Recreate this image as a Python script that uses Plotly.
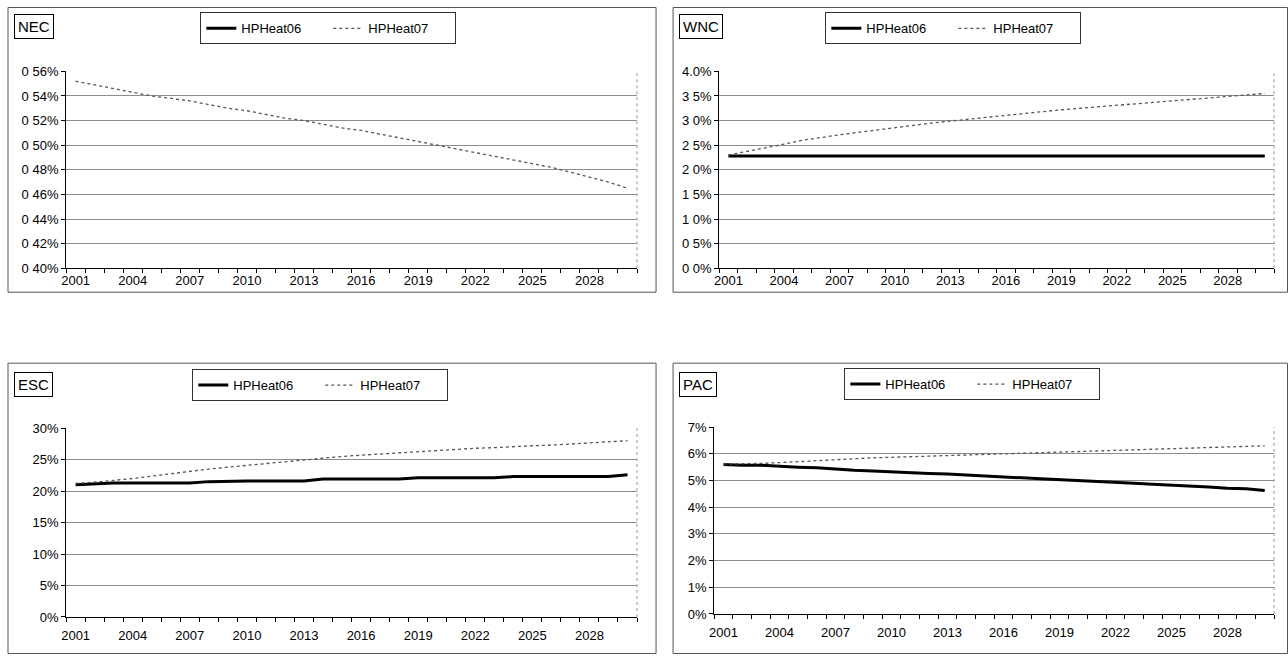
import plotly.graph_objects as go

W, H = 1288, 662

years = [2001, 2002, 2003, 2004, 2005, 2006, 2007, 2008, 2009, 2010,
         2011, 2012, 2013, 2014, 2015, 2016, 2017, 2018, 2019, 2020,
         2021, 2022, 2023, 2024, 2025, 2026, 2027, 2028, 2029, 2030]
year_labels = [2001, 2004, 2007, 2010, 2013, 2016, 2019, 2022, 2025, 2028]

series_names = ["HPHeat06", "HPHeat07"]

# values in percent
nec_06 = [None] * 30
nec_07 = [0.552, 0.549, 0.546, 0.543, 0.540, 0.538, 0.536, 0.533, 0.530, 0.528,
          0.525, 0.522, 0.520, 0.517, 0.514, 0.512, 0.509, 0.506, 0.503, 0.500,
          0.497, 0.494, 0.491, 0.488, 0.485, 0.482, 0.478, 0.474, 0.470, 0.465]

wnc_06 = [2.28] * 30
wnc_07 = [2.30, 2.37, 2.44, 2.52, 2.60, 2.66, 2.71, 2.76, 2.81, 2.86,
          2.90, 2.95, 2.99, 3.03, 3.07, 3.11, 3.15, 3.18, 3.22, 3.25,
          3.28, 3.31, 3.34, 3.37, 3.40, 3.43, 3.46, 3.49, 3.52, 3.55]

esc_06 = [21.0, 21.2, 21.3, 21.3, 21.3, 21.3, 21.3, 21.5, 21.6, 21.6,
          21.6, 21.6, 21.6, 21.9, 21.9, 21.9, 21.9, 21.9, 22.1, 22.1,
          22.1, 22.1, 22.1, 22.3, 22.3, 22.3, 22.3, 22.3, 22.3, 22.6]
esc_07 = [21.2, 21.4, 21.7, 22.0, 22.4, 22.8, 23.2, 23.5, 23.8, 24.1,
          24.4, 24.7, 25.0, 25.2, 25.5, 25.7, 25.9, 26.1, 26.3, 26.5,
          26.7, 26.8, 26.9, 27.1, 27.2, 27.3, 27.5, 27.6, 27.8, 28.0]

pac_06 = [5.60, 5.57, 5.57, 5.53, 5.50, 5.48, 5.43, 5.38, 5.36, 5.32,
          5.28, 5.26, 5.24, 5.20, 5.17, 5.14, 5.10, 5.07, 5.04, 5.00,
          4.97, 4.95, 4.90, 4.86, 4.83, 4.80, 4.76, 4.71, 4.69, 4.63]
pac_07 = [5.62, 5.62, 5.64, 5.67, 5.71, 5.75, 5.79, 5.82, 5.85, 5.87,
          5.89, 5.92, 5.95, 5.97, 5.99, 6.01, 6.03, 6.05, 6.07, 6.09,
          6.11, 6.13, 6.15, 6.17, 6.19, 6.21, 6.23, 6.25, 6.27, 6.30]

nec_ticks = [0.40, 0.42, 0.44, 0.46, 0.48, 0.50, 0.52, 0.54, 0.56]
nec_ticktext = ["0 40%", "0 42%", "0 44%", "0 46%", "0 48%", "0 50%", "0 52%", "0 54%", "0 56%"]
wnc_ticks = [0.0, 0.5, 1.0, 1.5, 2.0, 2.5, 3.0, 3.5, 4.0]
wnc_ticktext = ["0 0%", "0 5%", "1 0%", "1 5%", "2 0%", "2 5%", "3 0%", "3 5%", "4.0%"]
esc_ticks = [0, 5, 10, 15, 20, 25, 30]
esc_ticktext = ["0%", "5%", "10%", "15%", "20%", "25%", "30%"]
pac_ticks = [0, 1, 2, 3, 4, 5, 6, 7]
pac_ticktext = ["0%", "1%", "2%", "3%", "4%", "5%", "6%", "7%"]

FONT = "Liberation Sans, Arial, sans-serif"

def X(r):
    return min(max((r - 5) / 0.9945, 0.5), W - 0.5)

def Y(r):
    return min(max((r - 6.6) / 0.978, 0.5), H - 0.5)

def px(r):
    return X(r) / W

def py(r):
    return 1 - Y(r) / H

panels = [
    dict(name="NEC", s06=nec_06, s07=nec_07, ticks=nec_ticks, ttext=nec_ticktext,
         box=(8, 5, 655, 292), plot=(66, 71, 636, 268), title=(14, 14),
         leg=(200, 12), stand=0),
    dict(name="WNC", s06=wnc_06, s07=wnc_07, ticks=wnc_ticks, ttext=wnc_ticktext,
         box=(672, 5, 1288, 292), plot=(718, 71, 1272, 268), title=(678, 14),
         leg=(824, 12), stand=0),
    dict(name="ESC", s06=esc_06, s07=esc_07, ticks=esc_ticks, ttext=esc_ticktext,
         box=(8, 363, 655, 656), plot=(66, 428, 636, 617), title=(14, 372),
         leg=(192, 369), stand=6),
    dict(name="PAC", s06=pac_06, s07=pac_07, ticks=pac_ticks, ttext=pac_ticktext,
         box=(672, 363, 1288, 656), plot=(713, 427, 1272, 614), title=(678, 372),
         leg=(843, 368), stand=6),
]

fig = go.Figure()
shapes = []
annotations = []
layout = dict(
    width=W, height=H,
    margin=dict(l=0, r=0, t=0, b=0),
    paper_bgcolor="white", plot_bgcolor="white",
    font=dict(family=FONT, size=13, color="black"),
    showlegend=True,
)

for i, p in enumerate(panels):
    n = i + 1
    xa = "xaxis" if n == 1 else f"xaxis{n}"
    ya = "yaxis" if n == 1 else f"yaxis{n}"
    xref = "x" if n == 1 else f"x{n}"
    yref = "y" if n == 1 else f"y{n}"
    legname = "legend" if n == 1 else f"legend{n}"

    x0, y0, x1, y1 = p["plot"]
    layout[xa] = dict(
        domain=[px(x0), px(x1)], anchor=yref,
        range=[2000.5, 2030.5], tickmode="array", tickvals=year_labels,
        ticktext=[str(v) for v in year_labels], ticks="", showgrid=False,
        showline=True, linecolor="black", linewidth=1, zeroline=False,
        tickfont=dict(size=13, family=FONT), ticklabelstandoff=p["stand"],
        minor=dict(ticks="outside", ticklen=4, tickcolor="black", dtick=1,
                   tick0=2000.5, showgrid=False),
    )
    layout[ya] = dict(
        domain=[py(y1), py(y0)], anchor=xref,
        range=[p["ticks"][0], p["ticks"][-1]], tickmode="array",
        tickvals=p["ticks"], ticktext=p["ttext"], ticks="outside", ticklen=4,
        tickcolor="black", showline=True, linecolor="black", linewidth=1,
        showgrid=True, gridcolor="#8c8c8c", gridwidth=1, zeroline=False,
        tickfont=dict(size=13, family=FONT),
    )
    # plot area right border (light dotted)
    shapes.append(dict(type="line", xref="paper", yref="paper",
                       x0=px(x1), x1=px(x1), y0=py(y1), y1=py(y0),
                       line=dict(color="#9a9a9a", width=1, dash="dot")))
    # outer chart box
    bx0, by0, bx1, by1 = p["box"]
    shapes.append(dict(type="rect", xref="paper", yref="paper",
                       x0=px(bx0), x1=px(bx1), y0=py(by1), y1=py(by0),
                       line=dict(color="#555555", width=1)))
    # title box
    tx0, ty0 = p["title"]
    annotations.append(dict(
        text=p["name"], xref="paper", yref="paper",
        x=px(tx0), y=py(ty0), xanchor="left", yanchor="top",
        showarrow=False, bordercolor="black", borderwidth=1, borderpad=3,
        font=dict(size=15, family=FONT, color="black"), bgcolor="white",
    ))
    lx, ly = p["leg"]
    layout[legname] = dict(
        x=px(lx), y=py(ly), xanchor="left", yanchor="top",
        orientation="h", bordercolor="#333333", borderwidth=1,
        bgcolor="white", font=dict(size=13, family=FONT),
        itemwidth=30, entrywidth=82, tracegroupgap=0,
    )

    fig.add_trace(go.Scatter(
        x=years, y=p["s06"], mode="lines", name=series_names[0],
        line=dict(color="black", width=3), xaxis=xref, yaxis=yref,
        legend=legname, connectgaps=False,
    ))
    fig.add_trace(go.Scatter(
        x=years, y=p["s07"], mode="lines", name=series_names[1],
        line=dict(color="#555555", width=1.3, dash="dot"), xaxis=xref, yaxis=yref,
        legend=legname,
    ))

layout["shapes"] = shapes
layout["annotations"] = annotations
fig.update_layout(**layout)
fig.write_html(
    "out.html",
    config={"displayModeBar": False},
    post_script="document.body.style.margin='0';document.body.style.overflow='hidden';",
)
